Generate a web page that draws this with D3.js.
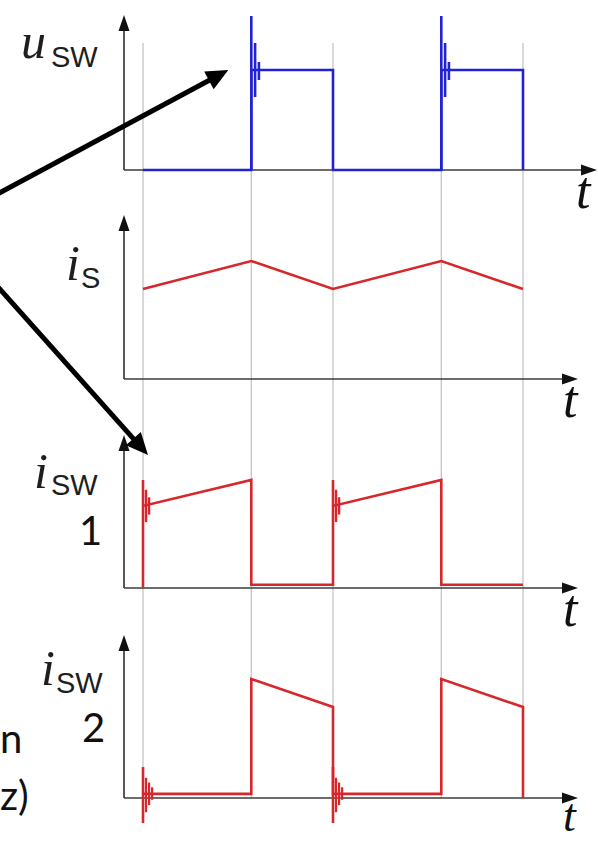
<!DOCTYPE html>
<html>
<head>
<meta charset="utf-8">
<script src="https://cdn.jsdelivr.net/npm/d3@7"></script>
<style>
  html, body { margin: 0; padding: 0; background: #fff; }
  svg { display: block; }
</style>
</head>
<body>
<svg id="chart" width="598" height="842"></svg>
<script>
// Switching period normalised to 1, duty cycle D
const D = 0.57;
const gridTimes = [0, D, 1, 1 + D, 2];

// Switch voltage u_SW (normalised to the plateau level)
const uswT = [0, D, D, 1, 1, 1 + D, 1 + D, 2, 2];
const uswV = [0, 0, 1, 1, 0, 0, 1, 1, 0];
const uswSpikeT = [D, 1 + D];
const uswSpikeTop = 1.54;
const uswRingDt = [0.02, 0.04];
const uswRingLo = [0.73, 0.90];
const uswRingHi = [1.27, 1.08];

// Source current i_S (normalised to its peak)
const isT = [0, D, 1, 1 + D, 2];
const isV = [0.763, 1, 0.763, 1, 0.763];

// Switch current i_SW1
const isw1T = [0, 0, 0, D, D, 1, 1, 1, 1 + D, 1 + D, 2];
const isw1V = [0, 1, 0.76, 1, 0.03, 0.03, 1, 0.76, 1, 0.03, 0.03];
const isw1RingT = [0, 1];
const isw1RingDt = [0.016, 0.032];
const isw1RingLo = [0.61, 0.68];
const isw1RingHi = [0.91, 0.84];

// Switch current i_SW2
const isw2T = [0, D, D, 1, 1, 1 + D, 1 + D, 2, 2];
const isw2V = [0.035, 0.035, 1, 0.765, 0.035, 0.035, 1, 0.765, 0];
const isw2SpikeT = [0, 1];
const isw2SpikeLo = -0.21;
const isw2SpikeHi = 0.26;
const isw2RingDt = [0.016, 0.032, 0.048];
const isw2RingLo = [-0.12, -0.06, -0.015];
const isw2RingHi = [0.17, 0.13, 0.09];

const BLUE = "#2222d2";
const RED = "#d6282c";
const AXIS = "#3c3c3c";
const GRID = "#c4c4c4";

const svg = d3.select("#chart");

const x = d3.scaleLinear().domain([0, 2]).range([143, 523]);
const axisX0 = x(-0.1);

// Panel layout: baseline pixel, pixel of value 1, y-axis tip, x-axis tip, t-label drop and size
const panels = [
  { base: 170, one: 70,  axisTop: 15,  axisEnd: 597, tDrop: 38, tSize: 52 },
  { base: 379, one: 261, axisTop: 215, axisEnd: 578, tDrop: 38, tSize: 52 },
  { base: 588, one: 480, axisTop: 435, axisEnd: 578, tDrop: 38, tSize: 52 },
  { base: 798, one: 679, axisTop: 635, axisEnd: 578, tDrop: 33, tSize: 46 }
];
panels.forEach(p => {
  p.y = d3.scaleLinear().domain([0, 1]).range([p.base, p.one]);
});

// Vertical grid lines through the switching instants
svg.append("g")
  .selectAll("line")
  .data(gridTimes)
  .join("line")
  .attr("x1", d => x(d)).attr("x2", d => x(d))
  .attr("y1", 43).attr("y2", panels[3].base)
  .attr("stroke", GRID)
  .attr("stroke-width", 1.3);

// Axes with arrow heads
const axes = svg.append("g");
panels.forEach(p => {
  axes.append("line")
    .attr("x1", axisX0).attr("x2", p.axisEnd - 12)
    .attr("y1", p.base).attr("y2", p.base)
    .attr("stroke", AXIS).attr("stroke-width", 1.7);
  axes.append("line")
    .attr("x1", axisX0).attr("x2", axisX0)
    .attr("y1", p.base).attr("y2", p.axisTop + 12)
    .attr("stroke", AXIS).attr("stroke-width", 1.7);
  axes.append("path")
    .attr("d", `M${p.axisEnd},${p.base} L${p.axisEnd - 16},${p.base - 5.5} L${p.axisEnd - 16},${p.base + 5.5} Z`)
    .attr("fill", "#111");
  axes.append("path")
    .attr("d", `M${axisX0},${p.axisTop} L${axisX0 - 5.5},${p.axisTop + 16} L${axisX0 + 5.5},${p.axisTop + 16} Z`)
    .attr("fill", "#111");
  axes.append("text")
    .attr("x", p.axisEnd === 597 ? 576 : 563)
    .attr("y", p.base + p.tDrop)
    .attr("font-family", "Liberation Serif, serif")
    .attr("font-style", "italic")
    .attr("font-size", p.tSize)
    .attr("fill", "#111")
    .text("t");
});

const line = d3.line();
const zip = (ts, vs, y) => ts.map((t, i) => [x(t), y(vs[i])]);

function trace(points, color) {
  svg.append("path")
    .attr("d", line(points))
    .attr("fill", "none")
    .attr("stroke", color)
    .attr("stroke-width", 2.6)
    .attr("stroke-linejoin", "miter");
}
function vbar(t, lo, hi, y, color, w) {
  svg.append("line")
    .attr("x1", x(t)).attr("x2", x(t))
    .attr("y1", y(lo)).attr("y2", y(hi))
    .attr("stroke", color)
    .attr("stroke-width", w || 2.4);
}

// u_SW
const y1 = panels[0].y;
trace(zip(uswT, uswV, y1), BLUE);
uswSpikeT.forEach(t => {
  vbar(t, 0, uswSpikeTop, y1, BLUE, 2.6);
  uswRingDt.forEach((dt, i) => vbar(t + dt, uswRingLo[i], uswRingHi[i], y1, BLUE, 2.6));
});

// i_S
trace(zip(isT, isV, panels[1].y), RED);

// i_SW1
const y3 = panels[2].y;
trace(zip(isw1T, isw1V, y3), RED);
isw1RingT.forEach(t => {
  isw1RingDt.forEach((dt, i) => vbar(t + dt, isw1RingLo[i], isw1RingHi[i], y3, RED, 2.4));
});

// i_SW2
const y4 = panels[3].y;
trace(zip(isw2T, isw2V, y4), RED);
isw2SpikeT.forEach(t => {
  vbar(t, isw2SpikeLo, isw2SpikeHi, y4, RED, 2.6);
  isw2RingDt.forEach((dt, i) => vbar(t + dt, isw2RingLo[i], isw2RingHi[i], y4, RED, 2.2));
});

// Quantity labels
const labels = svg.append("g").attr("fill", "#1e1e1e");
function quantity(sym, sub, xs, ys, xsub, ysub) {
  labels.append("text")
    .attr("x", xs).attr("y", ys)
    .attr("font-family", "Liberation Serif, serif")
    .attr("font-style", "italic")
    .attr("font-size", 50)
    .text(sym);
  labels.append("text")
    .attr("x", xsub).attr("y", ysub)
    .attr("font-family", "Liberation Sans, Arial, sans-serif")
    .attr("font-size", 29)
    .text(sub);
}
quantity("u", "SW", 21, 58, 51, 67);
quantity("i", "S", 66, 280, 81, 288);
quantity("i", "SW", 34, 488, 51, 495);
quantity("i", "SW", 41, 685, 56, 693);

const notes = svg.append("g")
  .attr("font-family", "Lato, Open Sans, sans-serif")
  .attr("font-size", 40)
  .attr("fill", "#111");
notes.append("text").attr("x", 79).attr("y", 545).text("1");
notes.append("text").attr("x", 82).attr("y", 742).text("2");
notes.append("text").attr("x", 0).attr("y", 753).text("n");
notes.append("text").attr("x", 0).attr("y", 810).text("z)");

// Pointer arrows toward the switching transients
function pointer(x0, y0, x1, y1) {
  const a = Math.atan2(y1 - y0, x1 - x0);
  const L = 22, W = 10;
  const bx = x1 - L * Math.cos(a), by = y1 - L * Math.sin(a);
  svg.append("line")
    .attr("x1", x0).attr("y1", y0).attr("x2", bx + 2 * Math.cos(a)).attr("y2", by + 2 * Math.sin(a))
    .attr("stroke", "#000").attr("stroke-width", 5);
  svg.append("path")
    .attr("d", `M${x1},${y1} L${bx - W * Math.sin(a)},${by + W * Math.cos(a)} L${bx + W * Math.sin(a)},${by - W * Math.cos(a)} Z`)
    .attr("fill", "#000");
}
pointer(-10, 198, x(D) - 23, y1(1));
pointer(-10, 278, x(0) + 5, y3(1) - 25);
</script>
</body>
</html>
